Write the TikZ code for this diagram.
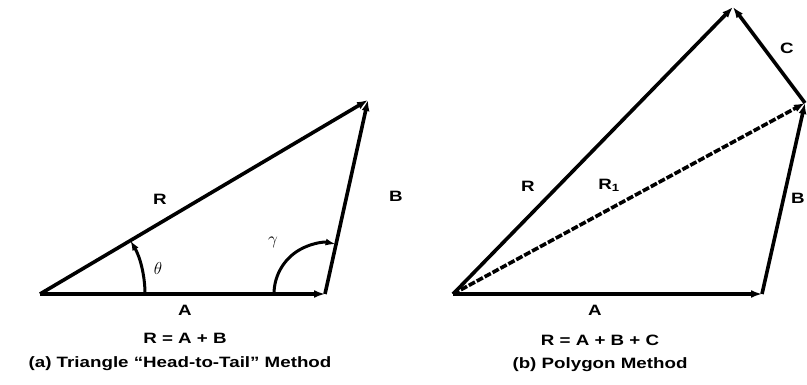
\documentclass[tikz,border=0pt]{standalone}
\usepackage{fontspec}
\setmainfont{Liberation Sans}
\usetikzlibrary{arrows.meta}
\newcommand{\wide}[1]{\scalebox{1.25}[1]{#1}}
\begin{document}
\begin{tikzpicture}[x=1pt,y=1pt]

\def\lw{3.6pt}

\tikzstyle{vec} = [line width=\lw,-{Latex[length=11pt,width=8pt]}];
\tikzstyle{ang} = [line width=3pt,-{Latex[length=10pt,width=7pt]}];
\tikzstyle{lbl} = [font=\bfseries\fontsize{15}{17}\selectfont,inner sep=1pt];
\tikzstyle{greek} = [font=\fontsize{16}{18}\selectfont,inner sep=1pt];
\tikzstyle{captext} = [font=\bfseries\fontsize{15}{17}\selectfont,inner sep=1pt];

\useasboundingbox (0,0) rectangle (807,384);

\begin{scope}

\coordinate (o1) at (40,90);
\coordinate (a1) at (325,90);
\coordinate (b1) at (368,284);

\draw [vec] (o1) -- (a1);
\draw [vec] (a1) -- (b1);
\draw [vec] (o1) -- (b1);

\draw [ang] ([xshift=105pt]o1) arc [start angle=0,end angle=30.6,radius=105pt];
\draw [ang] ([xshift=-51pt]a1) arc [start angle=180,end angle=78,radius=51pt];

\node [lbl] (rlabel) at (160,185) {\wide{R}};
\node [lbl] (blabel) at (396,188) {\wide{B}};
\node [lbl] (alabel) at (185,74) {\wide{A}};
\node [greek] (tlabel) at (158,116) {$\theta$};
\node [greek] (glabel) at (273,142) {$\gamma$};

\node [captext] (eq) at (185,46) {\wide{R = A + B}};
\node [captext] (caption) at (180,20) {\wide{(a) Triangle “Head-to-Tail” Method}};

\end{scope}

\begin{scope}

\coordinate (o2) at (453,90);
\coordinate (a2) at (762,90);
\coordinate (b2) at (805,281);
\coordinate (c2) at (733,377);

\draw [vec] (o2) -- (a2);
\draw [vec] (a2) -- (b2);
\draw [vec] (b2) -- (c2);
\draw [vec] (o2) -- (c2);
\draw [vec,dashed,dash pattern=on 7pt off 2pt] (o2) -- (b2);

\node [lbl] (rlabel) at (528,198) {\wide{R}};
\node [lbl] (r1label) at (609,199) {\wide{R$_{\mathbf 1}$}};
\node [lbl] (alabel) at (595,74) {\wide{A}};
\node [lbl] (clabel) at (787,336) {\wide{C}};
\node [lbl] (blabel) at (798,186) {\wide{B}};

\node [captext] (eq) at (600,44) {\wide{R = A + B + C}};
\node [captext] (caption) at (600,19) {\wide{(b) Polygon Method}};

\end{scope}

\end{tikzpicture}
\end{document}
